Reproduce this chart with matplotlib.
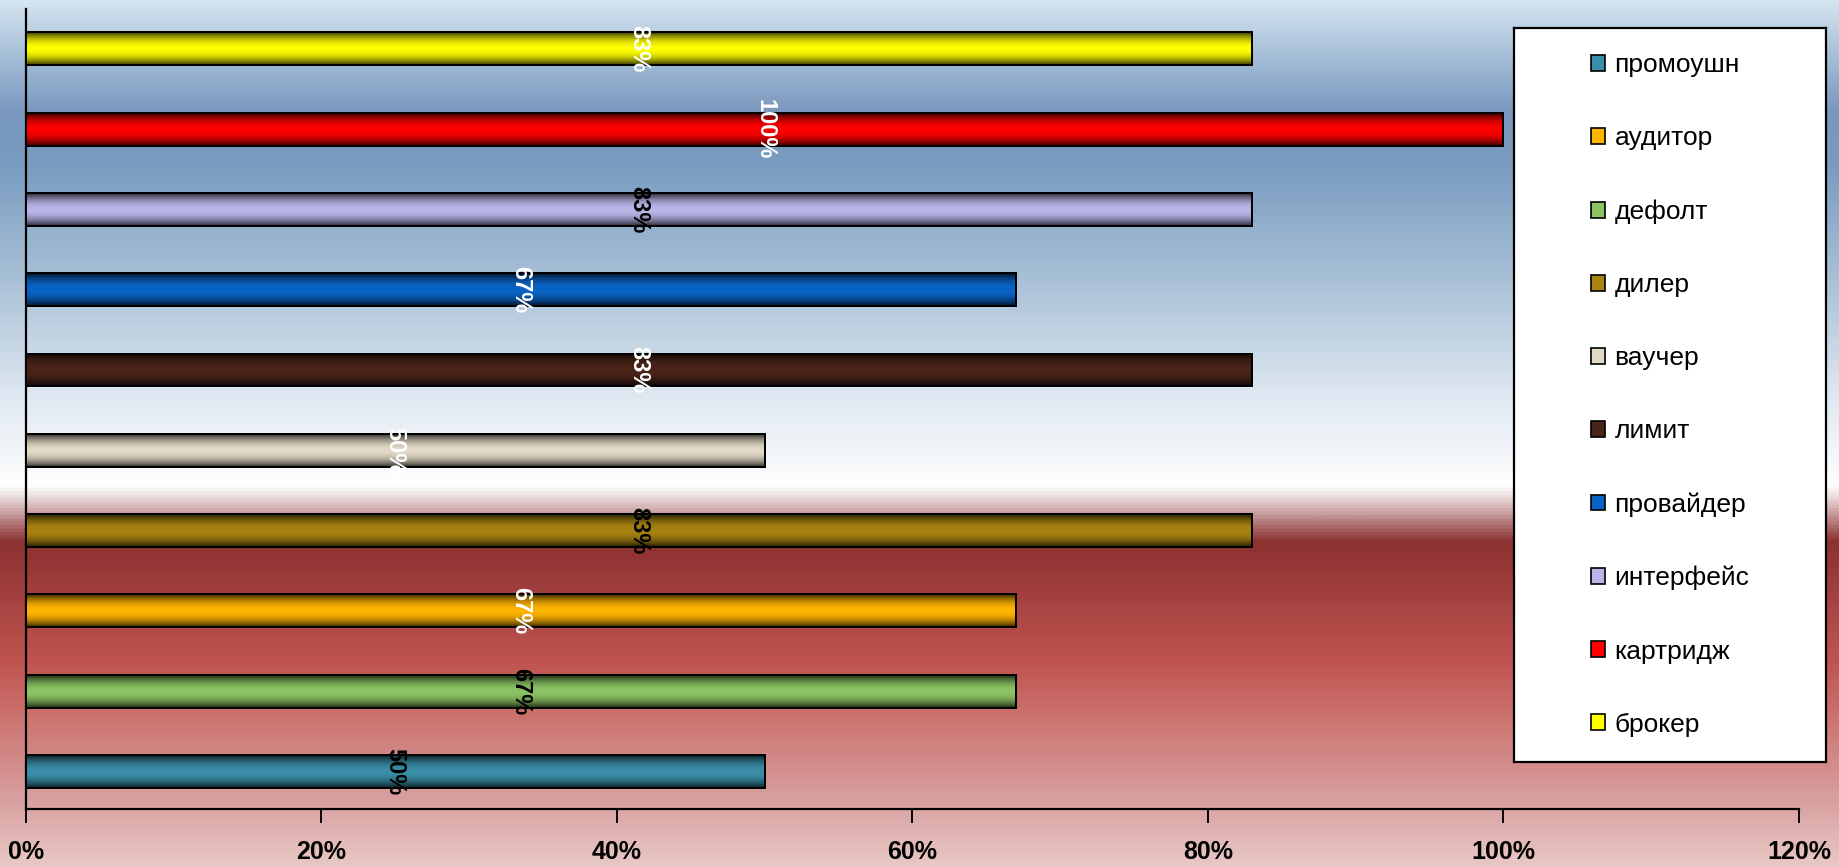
import numpy as np
import matplotlib
matplotlib.use('Agg')
import matplotlib.pyplot as plt
from matplotlib.colors import LinearSegmentedColormap, to_rgb
from matplotlib.patches import Rectangle

# bars, bottom to top
terms = ['промоушн', 'дефолт', 'аудитор', 'дилер', 'ваучер',
         'лимит', 'провайдер', 'интерфейс', 'картридж', 'брокер']
shares = [50, 67, 67, 83, 50, 83, 67, 83, 100, 83]
bar_colors = ['#3a8ea8', '#8cc464', '#ffb400', '#a88410', '#e2dac6',
              '#4a2418', '#0a64c8', '#bab6ea', '#ff0000', '#ffff00']
text_colors = ['black', 'black', 'white', 'black', 'white',
               'white', 'white', 'black', 'white', 'white']
legend_order = ['промоушн', 'аудитор', 'дефолт', 'дилер', 'ваучер',
                'лимит', 'провайдер', 'интерфейс', 'картридж', 'брокер']
xticks = [0, 20, 40, 60, 80, 100, 120]

sans = ['Liberation Sans', 'DejaVu Sans']

fig = plt.figure(figsize=(18.39, 8.67), dpi=100)

# background gradient
bg = fig.add_axes([0, 0, 1, 1], zorder=-10)
bg_cmap = LinearSegmentedColormap.from_list('bg', [
    (0.00, '#d4e4f0'), (0.06, '#a8c0d8'), (0.13, '#7896be'),
    (0.19, '#7a9cc0'), (0.32, '#a8c0d6'), (0.45, '#dce6f0'),
    (0.56, '#ffffff'), (0.575, '#e8d8d8'), (0.625, '#8b3030'),
    (0.70, '#a84442'), (0.765, '#c05450'), (0.83, '#cc7470'),
    (0.925, '#d8a0a0'), (1.00, '#e8c8c4')])
bg.imshow(np.linspace(0, 1, 512).reshape(-1, 1), cmap=bg_cmap,
          aspect='auto', extent=(0, 1, 0, 1), origin='upper')
bg.set_axis_off()

ax = fig.add_axes([0.01403, 0.0669, 0.9642, 0.9227])
ax.set_facecolor('none')

y = np.arange(len(terms))
h = 0.41
bars = ax.barh(y, shares, height=h, color=bar_colors, edgecolor='black',
               linewidth=1.4, zorder=3)

# cylinder shading across each bar
prof = np.linspace(-1, 1, 64)
shade = 1 - np.abs(prof) ** 2.0
for b, c, v, yi in zip(bars, bar_colors, shares, y):
    rgb = np.array(to_rgb(c))
    dark = rgb * 0.22
    img = dark[None, :] + (rgb - dark)[None, :] * shade[:, None]
    im = ax.imshow(img[:, None, :], aspect='auto',
                   extent=(0, v, yi - h / 2, yi + h / 2), zorder=3.5)
    im.set_clip_path(b)
    ax.add_patch(Rectangle(b.get_xy(), b.get_width(), b.get_height(),
                           fill=False, edgecolor='black', linewidth=1.4,
                           zorder=4))

for v, yi, tc in zip(shares, y, text_colors):
    ax.text(v / 2, yi, f'{v}%', rotation=-90, ha='center', va='center',
            color=tc, fontsize=17, fontweight='bold', family=sans, zorder=5)

ax.set_xlim(0, 120)
ax.set_ylim(-0.468, 9.497)
ax.set_xticks(xticks)
ax.set_xticklabels([f'{t}%' for t in xticks], fontsize=18,
                   fontweight='bold', family=sans)
ax.set_yticks([])
ax.tick_params(axis='x', direction='out', length=10, width=1.4, pad=12,
               colors='black')
for s in ['top', 'right']:
    ax.spines[s].set_visible(False)
for s in ['left', 'bottom']:
    ax.spines[s].set_linewidth(1.6)
    ax.spines[s].set_color('black')

# legend box
lax = fig.add_axes([0.8233, 0.1211, 0.1697, 0.8466])
lax.set_facecolor('white')
lax.set_xticks([])
lax.set_yticks([])
for s in lax.spines.values():
    s.set_linewidth(1.6)
    s.set_color('black')
handle_by_name = dict(zip(terms, bars))
handles = [Rectangle((0, 0), 1, 1, facecolor=handle_by_name[n].get_facecolor(),
                     edgecolor='black', linewidth=1.2) for n in legend_order]
lax.legend(handles, legend_order, loc='center', frameon=False,
           handlelength=0.55, handleheight=0.55, handletextpad=0.35,
           labelspacing=1.86, prop={'family': sans, 'size': 19})

fig.savefig('out.png', dpi=100)
